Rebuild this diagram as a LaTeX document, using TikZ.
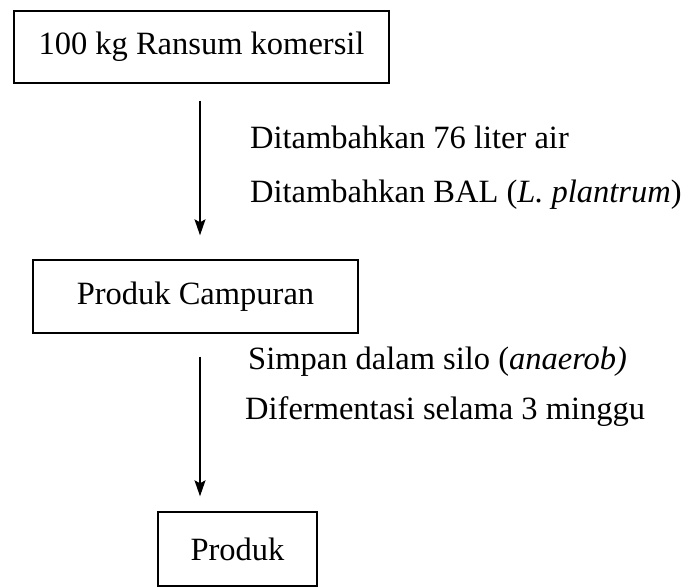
\documentclass[tikz,border=0pt]{standalone}
\usepackage{fontspec}
\setmainfont{Liberation Serif}
\usetikzlibrary{arrows.meta}
\tikzset{
  box/.style={draw, line width=1.4pt, rectangle, inner sep=0pt, font=\fontsize{32.5}{38}\selectfont},
  lbl/.style={anchor=base west, inner sep=0pt, font=\fontsize{32.5}{38}\selectfont},
  arr/.style={line width=1.3pt, -{Stealth[length=16pt,width=11pt,inset=3pt]}}
}
\begin{document}
\begin{tikzpicture}[x=1pt,y=-1pt]
\useasboundingbox (0,0) rectangle (682,588);
\node[box, minimum width=375pt, minimum height=72pt] (b1) at (201.5,47) {100 kg Ransum komersil};
\node[box, minimum width=325pt, minimum height=73pt] (b2) at (195.5,296.5) {Produk Campuran};
\node[box, minimum width=159pt, minimum height=74pt] (b3) at (237.5,549) {Produk};
\coordinate (ax) at (200,0);
\draw[arr, shorten <=17pt, shorten >=24pt] (b1.south -| ax) -- (b2.north -| ax);
\draw[arr, shorten <=23pt, shorten >=15pt] (b2.south -| ax) -- (b3.north -| ax);
\node[lbl] (t1) at (250,149) {Ditambahkan 76 liter air};
\node[lbl] (t2) at (250,202) {Ditambahkan BAL (\textit{L. plantrum})};
\node[lbl] (t3) at (248,369) {Simpan dalam silo (\textit{anaerob)}};
\node[lbl] (t4) at (245,419) {Difermentasi selama 3 minggu};
\end{tikzpicture}
\end{document}
